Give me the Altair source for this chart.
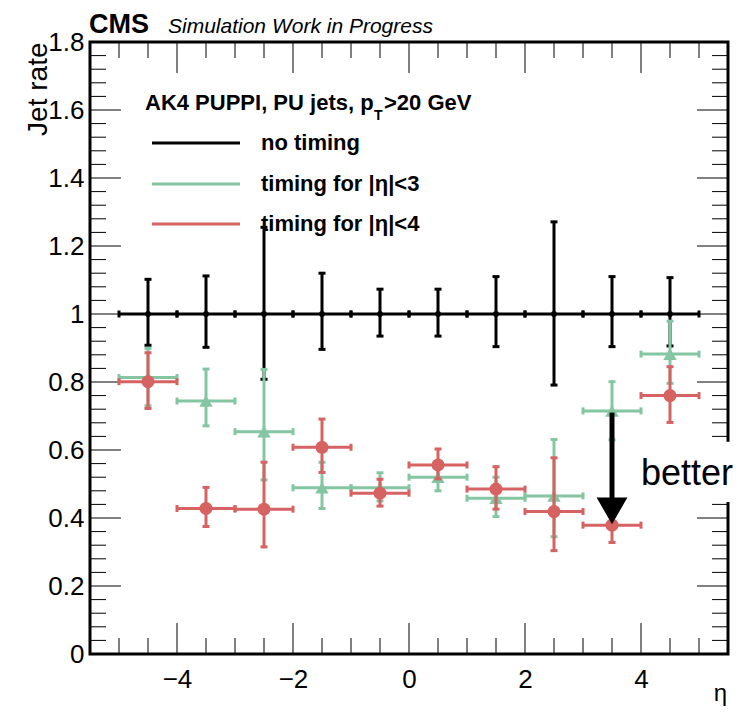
import altair as alt
import pandas as pd

# ---------------- data ----------------
eta = [-4.5, -3.5, -2.5, -1.5, -0.5, 0.5, 1.5, 2.5, 3.5, 4.5]
bin_half = [0.5] * 10

no_timing = [1.0, 1.0, 1.0, 1.0, 1.0, 1.0, 1.0, 1.0, 1.0, 1.0]
no_timing_lo = [0.908, 0.902, 0.808, 0.896, 0.935, 0.935, 0.904, 0.791, 0.904, 0.906]
no_timing_hi = [1.102, 1.112, 1.255, 1.120, 1.073, 1.073, 1.110, 1.271, 1.110, 1.107]

t3 = [0.813, 0.744, 0.654, 0.489, 0.489, 0.520, 0.458, 0.465, 0.715, 0.882]
t3_lo = [0.730, 0.671, 0.512, 0.428, 0.450, 0.480, 0.404, 0.345, 0.630, 0.796]
t3_hi = [0.899, 0.838, 0.837, 0.564, 0.533, 0.560, 0.520, 0.631, 0.801, 0.979]

t4 = [0.801, 0.428, 0.426, 0.608, 0.473, 0.556, 0.485, 0.419, 0.379, 0.760]
t4_lo = [0.722, 0.375, 0.315, 0.534, 0.435, 0.515, 0.426, 0.304, 0.328, 0.681]
t4_hi = [0.886, 0.490, 0.564, 0.691, 0.514, 0.603, 0.551, 0.577, 0.430, 0.845]

legend_labels = ["no timing", "timing for |η|<3", "timing for |η|<4"]
colors = ["#000000", "#83c6a1", "#d76262"]

y_labels = [0, 0.2, 0.4, 0.6, 0.8, 1.0, 1.2, 1.4, 1.6, 1.8]
x_labels = [-4, -2, 0, 2, 4]
y_minor = [round(i * 0.04, 2) for i in range(46) if i % 5 != 0]
x_minor = [i * 0.5 for i in range(-10, 11) if i % 4 != 0]

arrow_x = [3.5]
arrow_from = [0.71]
arrow_to = [0.44]
arrow_head = [0.421]
better_box = dict(x=[3.98], x2=[5.65], y=[0.447], y2=[0.624])

# ---------------- layout ----------------
W, H = 638, 612
FONT = "Liberation Sans"
MAJ, MIN = 31, 16

xs = alt.Scale(domain=[-5.5, 5.5], nice=False, zero=False)
ys = alt.Scale(domain=[0, 1.8], nice=False, zero=False)
xaxis = alt.Axis(values=x_labels, format="~g", labelFontSize=26, labelFont=FONT,
                 labelColor="black", ticks=False, domain=False, grid=False,
                 labelPadding=12, labelFlush=False, title=None)
yaxis = alt.Axis(values=y_labels, format="~g", labelFontSize=26, labelFont=FONT,
                 labelColor="black", ticks=False, domain=False, grid=False,
                 labelPadding=6, labelFlush=False, title="Jet rate",
                 titleFont=FONT, titleFontSize=28, titleFontWeight="normal",
                 titleColor="black", titleAngle=270, titleAlign="right",
                 titleBaseline="alphabetic", titleX=-44, titleY=0)


def X(f):
    return alt.X(f, type="quantitative", scale=xs, axis=xaxis)


def Y(f):
    return alt.Y(f, type="quantitative", scale=ys, axis=yaxis)


one = pd.DataFrame({"a": [0]})
layers = []

# ticks (ROOT style, inward, on all four sides)
xt = pd.DataFrame({"v": x_labels})
xm = pd.DataFrame({"v": x_minor})
yt = pd.DataFrame({"v": y_labels})
ym = pd.DataFrame({"v": y_minor})
for d, L in [(xt, MAJ), (xm, MIN)]:
    layers.append(alt.Chart(d).mark_rule(color="black", strokeWidth=1).encode(
        x=X("v"), y=alt.value(H), y2=alt.value(H - L)))
    layers.append(alt.Chart(d).mark_rule(color="black", strokeWidth=1).encode(
        x=X("v"), y=alt.value(0), y2=alt.value(L)))
for d, L in [(yt, MAJ), (ym, MIN)]:
    layers.append(alt.Chart(d).mark_rule(color="black", strokeWidth=1).encode(
        y=Y("v"), x=alt.value(0), x2=alt.value(L)))
    layers.append(alt.Chart(d).mark_rule(color="black", strokeWidth=1).encode(
        y=Y("v"), x=alt.value(W - L), x2=alt.value(W)))

# frame
layers.append(alt.Chart(one).mark_rect(fill=None, stroke="black", strokeWidth=3).encode(
    x=alt.value(0), x2=alt.value(W), y=alt.value(0), y2=alt.value(H)))


def series(vals, lo, hi, color, shape, size):
    df = pd.DataFrame({
        "eta": eta,
        "xlo": [e - h for e, h in zip(eta, bin_half)],
        "xhi": [e + h for e, h in zip(eta, bin_half)],
        "y": vals, "ylo": lo, "yhi": hi,
    })
    b = alt.Chart(df)
    out = [
        b.mark_rule(color=color, strokeWidth=3).encode(x=X("xlo"), x2="xhi", y=Y("y")),
        b.mark_rule(color=color, strokeWidth=3).encode(x=X("eta"), y=Y("ylo"), y2="yhi"),
        b.mark_tick(color=color, orient="vertical", size=7, thickness=3, opacity=1).encode(x=X("xlo"), y=Y("y")),
        b.mark_tick(color=color, orient="vertical", size=7, thickness=3, opacity=1).encode(x=X("xhi"), y=Y("y")),
        b.mark_tick(color=color, orient="horizontal", size=7, thickness=3, opacity=1).encode(x=X("eta"), y=Y("ylo")),
        b.mark_tick(color=color, orient="horizontal", size=7, thickness=3, opacity=1).encode(x=X("eta"), y=Y("yhi")),
        b.mark_point(color=color, shape=shape, size=size, filled=True, opacity=1).encode(x=X("eta"), y=Y("y")),
    ]
    return out


layers += series(no_timing, no_timing_lo, no_timing_hi, colors[0], "circle", 34)
layers += series(t3, t3_lo, t3_hi, colors[1], "triangle-up", 180)
layers += series(t4, t4_lo, t4_hi, colors[2], "circle", 170)

# arrow
adf = pd.DataFrame({"x": arrow_x, "y1": arrow_from, "y2": arrow_to, "yh": arrow_head})
layers.append(alt.Chart(adf).mark_rule(color="black", strokeWidth=5).encode(
    x=X("x"), y=Y("y1"), y2="y2"))
layers.append(alt.Chart(adf).mark_point(shape="triangle-down", size=950, filled=True,
                                        color="black", opacity=1).encode(x=X("x"), y=Y("yh")))

# white box behind "better"
bdf = pd.DataFrame(better_box)
layers.append(alt.Chart(bdf).mark_rect(fill="white", stroke=None).encode(
    x=X("x"), x2="x2", y=Y("y"), y2="y2"))
layers.append(alt.Chart(one).mark_text(text="better", font=FONT, fontSize=36, align="left",
                                       baseline="alphabetic", color="black").encode(
    x=alt.value(551), y=alt.value(443)))

# legend
leg_y = [101, 142, 182]
for lab, col, ly in zip(legend_labels, colors, leg_y):
    layers.append(alt.Chart(one).mark_rule(color=col, strokeWidth=3).encode(
        x=alt.value(62), x2=alt.value(150), y=alt.value(ly)))
    layers.append(alt.Chart(one).mark_text(text=lab, font=FONT, fontSize=22, fontWeight="bold",
                                           align="left", baseline="middle", color="black").encode(
        x=alt.value(171), y=alt.value(ly)))

# header with subscript
layers.append(alt.Chart(one).mark_text(text="AK4 PUPPI, PU jets, p", font=FONT, fontSize=22,
                                       fontWeight="bold", align="left", baseline="alphabetic",
                                       color="black").encode(x=alt.value(55), y=alt.value(68)))
layers.append(alt.Chart(one).mark_text(text="T", font=FONT, fontSize=14, fontWeight="bold",
                                       align="left", baseline="alphabetic",
                                       color="black").encode(x=alt.value(284), y=alt.value(78)))
layers.append(alt.Chart(one).mark_text(text=">20 GeV", font=FONT, fontSize=22, fontWeight="bold",
                                       align="left", baseline="alphabetic",
                                       color="black").encode(x=alt.value(294), y=alt.value(68)))

# CMS label
layers.append(alt.Chart(one).mark_text(text="CMS", font=FONT, fontSize=27, fontWeight="bold",
                                       align="left", baseline="alphabetic",
                                       color="black").encode(x=alt.value(-1), y=alt.value(-9)))
layers.append(alt.Chart(one).mark_text(text="Simulation Work in Progress", font=FONT, fontSize=21,
                                       fontStyle="italic", align="left", baseline="alphabetic",
                                       color="black").encode(x=alt.value(78), y=alt.value(-9)))

# x title
layers.append(alt.Chart(one).mark_text(text="η", font=FONT, fontSize=24, align="right",
                                       baseline="alphabetic", color="black").encode(
    x=alt.value(W - 1), y=alt.value(H + 47)))

chart = alt.layer(*layers).properties(
    width=W, height=H,
    autosize=alt.AutoSizeParams(type="none"),
    padding={"left": 82, "top": 34, "right": 8, "bottom": 53},
).configure_view(stroke=None)

chart.save("out.html", embed_options={"renderer": "svg", "actions": False})
